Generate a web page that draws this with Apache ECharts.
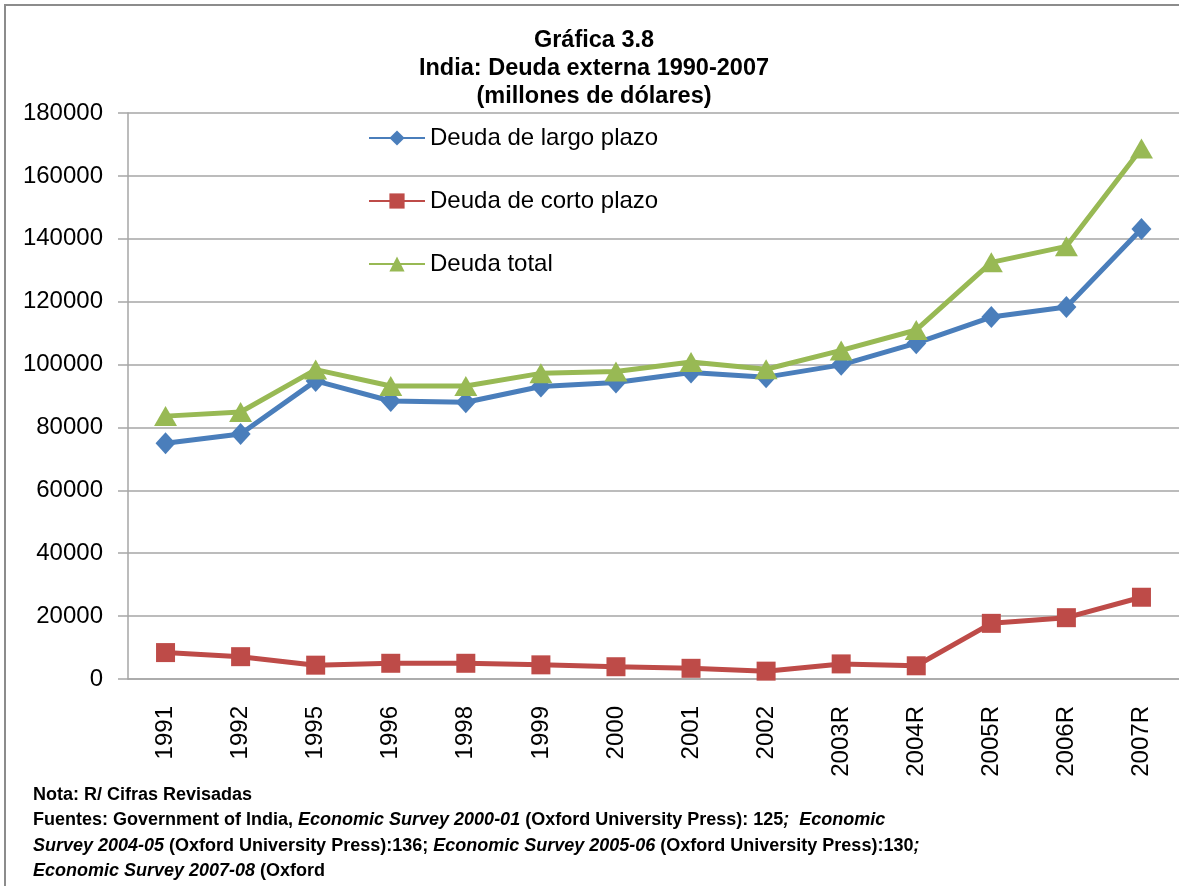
<!DOCTYPE html>
<html>
<head>
<meta charset="utf-8">
<script src="https://cdn.jsdelivr.net/npm/echarts@6/dist/echarts.min.js"></script>
<style>
  html, body { margin: 0; padding: 0; background: #fff; overflow: hidden; }
  #main { width: 1179px; height: 886px; }
</style>
</head>
<body>
<div id="main"></div>
<script>
// data (millones de dólares)
const categories = ['1991', '1992', '1995', '1996', '1998', '1999', '2000', '2001', '2002', '2003R', '2004R', '2005R', '2006R', '2007R'];
const largoPlazo = [75000, 77900, 94800, 88400, 88000, 93000, 94300, 97500, 96000, 99900, 106800, 115100, 118300, 143100];
const cortoPlazo = [8400, 7100, 4400, 5000, 5000, 4500, 3900, 3400, 2500, 4800, 4200, 17700, 19500, 26000];
const deudaTotal = [83600, 84900, 98400, 93200, 93200, 97200, 97800, 100800, 98500, 104500, 111000, 132500, 137600, 168700];
const seriesNames = ['Deuda de largo plazo', 'Deuda de corto plazo', 'Deuda total'];
const titleLines = ['Gráfica 3.8', 'India: Deuda externa 1990-2007', '(millones de dólares)'];

// footnote: [style, text] pieces, b = plain bold, i = italic
const notes = [
    [['b', 'Nota: R/ Cifras Revisadas']],
    [['b', 'Fuentes: Government of India, '], ['i', 'Economic Survey 2000-01'], ['b', ' (Oxford University Press): 125'], ['i', ';  Economic']],
    [['i', 'Survey 2004-05'], ['b', ' (Oxford University Press):136; '], ['i', 'Economic Survey 2005-06'], ['b', ' (Oxford University Press):130'], ['i', ';']],
    [['i', 'Economic Survey 2007-08'], ['b', ' (Oxford']]
];

const blue = '#4a7ebb';
const red = '#be4b48';
const green = '#98b954';
const axisGray = '#a6a6a6';
const font = 'Liberation Sans';

let graphics = [];

// outer frame, cut by the right and bottom edges
graphics.push({
    type: 'rect',
    shape: { x: 5, y: 5, width: 1200, height: 900 },
    style: { fill: 'none', stroke: '#8c8c8c', lineWidth: 2 },
    silent: true
});

titleLines.forEach((t, i) => {
    graphics.push({
        type: 'text',
        x: 594, y: 41 + i * 28,
        style: {
            text: t, fill: '#000', align: 'center', verticalAlign: 'middle',
            font: 'bold 23.5px "' + font + '"'
        }
    });
});

notes.forEach((line, i) => {
    let txt = line.map(p => '{' + p[0] + '|' + p[1] + '}').join('');
    graphics.push({
        type: 'text',
        x: 33, y: 795 + i * 25.5,
        style: {
            text: txt, verticalAlign: 'middle', fill: '#000',
            rich: {
                b: { fontFamily: font, fontWeight: 'bold', fontSize: 18, fill: '#000' },
                i: { fontFamily: font, fontWeight: 'bold', fontStyle: 'italic', fontSize: 18, fill: '#000' }
            }
        }
    });
});

function lineSeries(name, data, color, symbol, size) {
    return {
        name: name,
        type: 'line',
        data: data,
        symbol: symbol,
        symbolSize: size,
        lineStyle: { color: color, width: 5 },
        itemStyle: { color: color },
        z: 3
    };
}

let options = {
    animation: false,
    backgroundColor: '#fff',
    textStyle: { fontFamily: font },
    graphic: graphics,
    legend: {
        orient: 'vertical',
        left: 363, top: 121,
        itemGap: 39,
        itemWidth: 56, itemHeight: 19,
        textStyle: { fontFamily: font, fontSize: 24, color: '#000' },
        data: seriesNames
    },
    grid: { left: 128, top: 113, width: 1057, height: 566 },
    xAxis: {
        type: 'category',
        data: categories,
        boundaryGap: true,
        axisLine: { lineStyle: { color: axisGray, width: 1.5 } },
        axisTick: { length: 10, lineStyle: { color: axisGray, width: 1.5 } },
        axisLabel: { rotate: 90, margin: 27, fontFamily: font, fontSize: 24, color: '#000' }
    },
    yAxis: {
        type: 'value',
        min: 0, max: 180000, interval: 20000,
        axisLine: { show: true, lineStyle: { color: axisGray, width: 1.5 } },
        axisTick: { show: true, length: 10, lineStyle: { color: axisGray, width: 1.5 } },
        axisLabel: { margin: 25, fontFamily: font, fontSize: 24, color: '#000', formatter: v => String(v) },
        splitLine: { lineStyle: { color: axisGray, width: 1.5 } }
    },
    series: [
        lineSeries(seriesNames[0], largoPlazo, blue, 'diamond', [20, 22]),
        lineSeries(seriesNames[1], cortoPlazo, red, 'rect', 19),
        lineSeries(seriesNames[2], deudaTotal, green, 'triangle', [23, 20])
    ]
};

let myChart = echarts.init(document.getElementById('main'));
myChart.setOption(options);
</script>
</body>
</html>
